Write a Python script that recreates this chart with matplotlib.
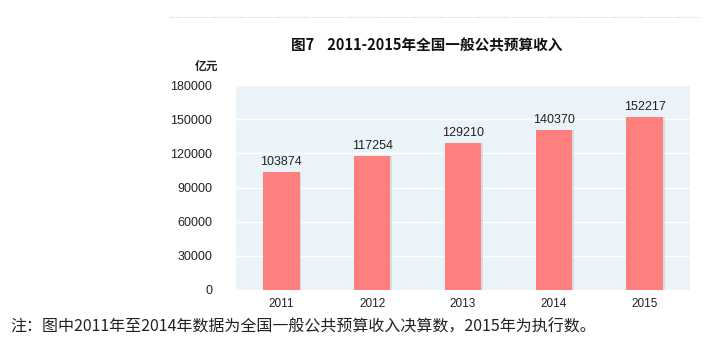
import numpy as np
import matplotlib
matplotlib.use('Agg')
import matplotlib.pyplot as plt
from matplotlib.lines import Line2D

plt.rcParams['font.family'] = ['Noto Sans CJK SC', 'DejaVu Sans']
num_font = ['Liberation Sans', 'DejaVu Sans']

years = ['2011', '2012', '2013', '2014', '2015']
revenue = [103874, 117254, 129210, 140370, 152217]
yticks = [0, 30000, 60000, 90000, 120000, 150000, 180000]

fig = plt.figure(figsize=(7.12, 3.52), dpi=100)
ax = fig.add_axes([236 / 712, 1 - 290 / 352, 454 / 712, 205 / 352])

ax.set_facecolor('#eaf4f8')
x = np.arange(len(years))
ax.bar(x + 0.02, revenue, width=0.4, color='#c8c8c8', alpha=0.5, zorder=2)
ax.bar(x, revenue, width=0.4, color='#ff7f7f', zorder=3)

for xi, v in zip(x, revenue):
    ax.text(xi, v + 3500, str(v), ha='center', va='bottom', fontsize=9,
            family=num_font, color='#222222', zorder=4)

ax.set_xlim(-0.5, len(years) - 0.5)
ax.set_ylim(0, 180000)
ax.set_yticks(yticks)
ax.set_yticklabels([str(t) for t in yticks], family=num_font, fontsize=9)
ax.set_xticks(x)
ax.set_xticklabels(years, family=num_font, fontsize=8.5)
ax.tick_params(axis='both', length=0, colors='#222222')
ax.tick_params(axis='y', pad=17)
ax.tick_params(axis='x', pad=6)
ax.grid(axis='y', color='white', linewidth=1, zorder=1)
ax.set_axisbelow(True)
for s in ax.spines.values():
    s.set_visible(False)

fig.text(427 / 712, 1 - 45 / 352, '图7    2011-2015年全国一般公共预算收入', ha='center',
         va='center', fontsize=10.5, fontweight='bold', color='#111111')
fig.text(218 / 712, 1 - 66 / 352, '亿元', ha='right', va='center', fontsize=8.5,
         fontweight='bold', color='#222222')
fig.text(10 / 712, 1 - 327 / 352, '注：图中2011年至2014年数据为全国一般公共预算收入决算数，2015年为执行数。',
         ha='left', va='center', fontsize=11.5, color='#222222')

fig.add_artist(Line2D([170 / 712, 700 / 712], [1 - 17 / 352, 1 - 17 / 352],
                      transform=fig.transFigure, color='#cccccc',
                      linestyle=(0, (1, 1.5)), linewidth=0.8))

fig.savefig('out.png', dpi=100)
